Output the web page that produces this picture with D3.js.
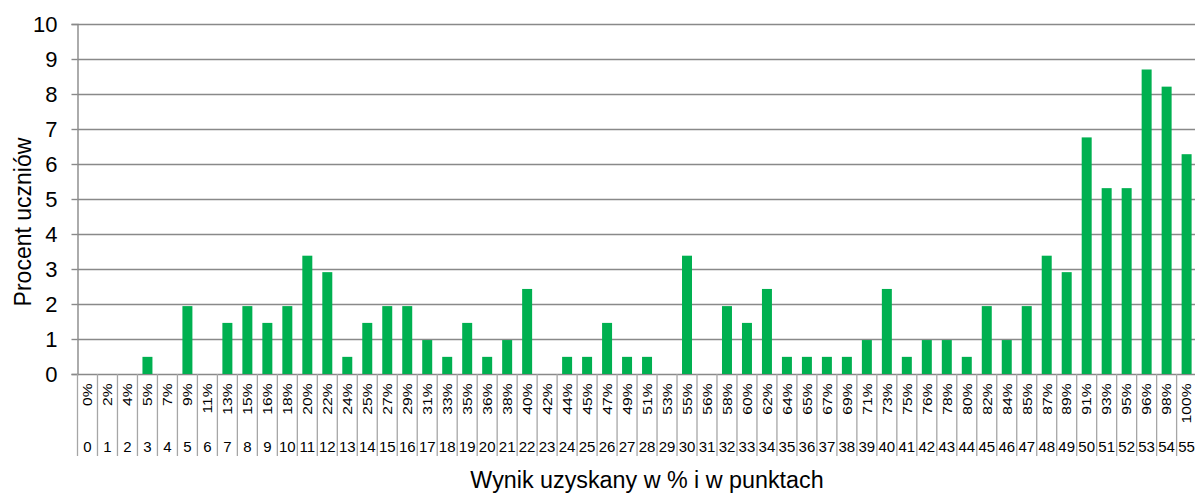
<!DOCTYPE html>
<html>
<head>
<meta charset="utf-8">
<script src="https://cdn.jsdelivr.net/npm/d3@7"></script>
<style>
  html, body { margin: 0; padding: 0; background: #fff; }
  svg { display: block; font-family: "Liberation Sans", Arial, sans-serif; }
</style>
</head>
<body>
<svg id="chart" width="1195" height="493"></svg>
<script>
const points = ["0","1","2","3","4","5","6","7","8","9","10","11","12","13","14","15","16","17","18","19","20","21","22","23","24","25","26","27","28","29","30","31","32","33","34","35","36","37","38","39","40","41","42","43","44","45","46","47","48","49","50","51","52","53","54","55"];
const percentLabels = ["0%","2%","4%","5%","7%","9%","11%","13%","15%","16%","18%","20%","22%","24%","25%","27%","29%","31%","33%","35%","36%","38%","40%","42%","44%","45%","47%","49%","51%","53%","55%","56%","58%","60%","62%","64%","65%","67%","69%","71%","73%","75%","76%","78%","80%","82%","84%","85%","87%","89%","91%","93%","95%","96%","98%","100%"];
const values = [0, 0, 0, 0.49, 0, 1.94, 0, 1.46, 1.94, 1.46, 1.94, 3.38, 2.91, 0.49, 1.46, 1.94,
  1.94, 0.97, 0.49, 1.46, 0.49, 0.97, 2.43, 0, 0.49, 0.49, 1.46, 0.49, 0.49, 0, 3.38, 0, 1.94, 1.46, 2.43, 0.49,
  0.49, 0.49, 0.49, 0.97, 2.43, 0.49, 0.97, 0.97, 0.49, 1.94, 0.97, 1.94, 3.38, 2.91, 6.76, 5.31, 5.31, 8.70, 8.21, 6.28];
const yTicks = [0,1,2,3,4,5,6,7,8,9,10];
const yTitle = "Procent uczniów";
const xTitle = "Wynik uzyskany w % i w punktach";

const svg = d3.select("#chart");
const plotLeft = 77.5, plotRight = 1196.6, plotTop = 24, plotBottom = 374;
const gridColor = "#898989";

const x = d3.scaleBand().domain(points).range([plotLeft, plotRight]).paddingInner(0.5).paddingOuter(0.25);
const y = d3.scaleLinear().domain([0, 10]).range([plotBottom, plotTop]);

// gridlines
svg.append("g").selectAll("line").data(yTicks).join("line")
  .attr("x1", plotLeft).attr("x2", plotRight)
  .attr("y1", d => Math.round(y(d)) + 0.5).attr("y2", d => Math.round(y(d)) + 0.5)
  .attr("stroke", gridColor).attr("stroke-width", 1.4);

// y axis
const yAxis = svg.append("g").attr("transform", `translate(${plotLeft},0)`)
  .call(d3.axisLeft(y).tickValues(yTicks).tickSize(6).tickPadding(14).tickFormat(d3.format("d")));
yAxis.select(".domain").attr("stroke", gridColor).attr("stroke-width", 1.4);
yAxis.selectAll(".tick line").attr("stroke", gridColor).attr("stroke-width", 1.4);
yAxis.selectAll(".tick text").attr("font-size", 22).attr("fill", "#000")
  .attr("font-family", "'Liberation Sans', Arial, sans-serif");

// category dividers
const step = x.step();
const offset = (step - x.bandwidth()) / 2;
const divX = points.map(p => x(p) - offset).concat([x(points[points.length - 1]) + x.bandwidth() + offset]);
svg.append("g").selectAll("line").data(divX).join("line")
  .attr("x1", d => d).attr("x2", d => d)
  .attr("y1", plotBottom).attr("y2", 456)
  .attr("stroke", "#a6a6a6").attr("stroke-width", 1.3);

// bars
svg.append("g").selectAll("rect").data(values).join("rect")
  .attr("x", (d, i) => x(points[i]))
  .attr("width", x.bandwidth())
  .attr("y", d => y(d))
  .attr("height", d => y(0) - y(d))
  .attr("fill", "#00b050");

// percent labels (rotated)
svg.append("g").selectAll("text").data(percentLabels).join("text")
  .attr("transform", (d, i) => `translate(${x(points[i]) + x.bandwidth() / 2},383.5) rotate(-90) scale(1,0.85)`)
  .attr("text-anchor", "end")
  .attr("dy", "0.36em")
  .attr("font-size", 15.6)
  .attr("fill", "#000")
  .text(d => d);

// point labels
svg.append("g").selectAll("text").data(points).join("text")
  .attr("x", (d) => x(d) + x.bandwidth() / 2)
  .attr("y", 452)
  .attr("text-anchor", "middle")
  .attr("font-size", 15)
  .attr("fill", "#000")
  .text(d => d);

// axis titles
svg.append("text")
  .attr("transform", `translate(31,222) rotate(-90)`)
  .attr("text-anchor", "middle")
  .attr("font-size", 23)
  .attr("fill", "#000")
  .text(yTitle);

svg.append("text")
  .attr("x", 647).attr("y", 488)
  .attr("text-anchor", "middle")
  .attr("font-size", 23.3)
  .attr("fill", "#000")
  .text(xTitle);
</script>
</body>
</html>
